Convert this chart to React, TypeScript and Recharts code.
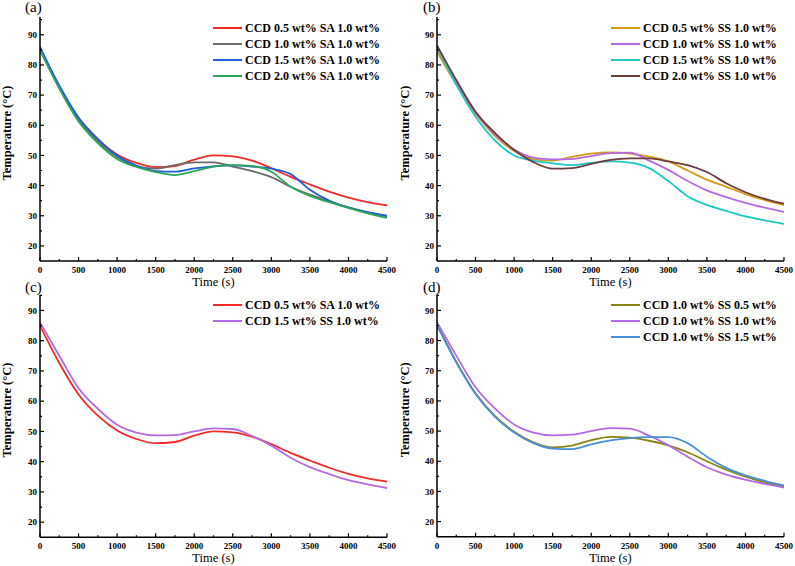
import { LineChart, Line, XAxis, YAxis, Legend } from 'recharts'

const FONT = '"Liberation Serif", "Times New Roman", serif'

// time axis (s)
const TIME = [0, 250, 500, 750, 1000, 1250, 1500, 1750, 2000, 2250, 2500, 2750, 3000, 3250, 3500, 3750, 4000, 4250, 4500]
const X_TICKS = TIME
const Y_TICKS = [20, 25, 30, 35, 40, 45, 50, 55, 60, 65, 70, 75, 80, 85, 90, 95]

// (a) CCD + SA
const SA_05 = [85, 72.6, 62.2, 55.2, 50.3, 47.5, 46.1, 46.5, 48.6, 50, 49.7, 48.3, 45.8, 42.9, 40.4, 38, 36, 34.5, 33.4]
const SA_10 = [85.5, 72.6, 61.8, 54.6, 49.5, 46.5, 45.6, 46.8, 47.7, 47.7, 46.3, 44.8, 42.8, 39.6, 37, 34.8, 32.8, 31.1, 29.8]
const SA_15 = [86, 73.2, 62.6, 55.5, 50, 46.6, 44.8, 44.6, 45.7, 46.4, 46.7, 46.3, 45.6, 43.8, 38.6, 35, 32.7, 31.2, 30]
const SA_20 = [85, 72.2, 61.3, 54.1, 48.8, 46.2, 44.5, 43.5, 44.8, 46.3, 46.8, 46.5, 44.6, 39.6, 36.6, 34.5, 32.6, 30.8, 29.3]

// (b) CCD + SS 1.0 wt%
const SS_05 = [84.5, 73.5, 63.8, 56.5, 51.5, 48.8, 48.3, 49.5, 50.6, 51, 50.6, 49.6, 48, 45, 42, 39.6, 37.2, 35.2, 33.5]
const SS_10 = [85.5, 74.2, 64.2, 57, 52, 49.3, 48.7, 48.8, 49.8, 50.8, 50.9, 48.3, 45.2, 41.5, 38.4, 36.2, 34.3, 32.7, 31.3]
const SS_15 = [86, 73.5, 62.8, 55, 50, 48.3, 47.4, 46.8, 47.5, 48, 47.6, 45.8, 41.5, 36.5, 33.6, 31.6, 29.8, 28.5, 27.3]
const SS_20 = [86.5, 75, 64.5, 57.5, 51.8, 47.8, 45.6, 45.8, 47.2, 48.5, 49, 49, 48, 46.8, 44.5, 40.8, 37.8, 35.6, 34]

// (c) comparison
const C_SS15 = [86, 75, 64.3, 57.5, 52.2, 49.6, 48.7, 48.8, 50, 51, 50.8, 48.5, 45.3, 41.3, 38.2, 35.9, 33.9, 32.5, 31.3]

// (d) CCD 1.0 wt% + SS
const D_SS05 = [85.5, 73, 62.5, 55, 49.8, 46.3, 44.6, 45.2, 47, 48.1, 47.8, 46.8, 45.3, 43, 40, 37.2, 34.9, 33, 31.6]
const D_SS10 = [86, 75, 64.5, 57.5, 52.2, 49.5, 48.6, 48.8, 50, 51, 50.8, 48.5, 45.3, 41.5, 38, 35.6, 33.9, 32.5, 31.3]
const D_SS15 = [85, 72.8, 62.3, 54.8, 49.5, 46, 44.2, 44, 45.6, 46.9, 47.7, 48, 48, 46, 41.5, 37.8, 35.3, 33.5, 32]

interface Series { name: string; color: string; values: number[] }

const XTick = ({ x, y, payload }: any) => {
  const v = payload.value
  const major = v % 500 === 0
  return (
    <g>
      <line x1={x} x2={x} y1={y} y2={y - (major ? 4 : 2)} stroke="#000" strokeWidth={1.2} />
      {major && (
        <text x={x} y={y + 12} textAnchor="middle" fontSize={9} fontWeight="bold" fontFamily={FONT} fill="#000">{v}</text>
      )}
    </g>
  )
}

const YTick = ({ x, y, payload }: any) => {
  const v = payload.value
  const major = v % 10 === 0
  return (
    <g>
      <line x1={x} x2={x + (major ? 4 : 2)} y1={y} y2={y} stroke="#000" strokeWidth={1.2} />
      {major && (
        <text x={x - 3} y={y + 3.2} textAnchor="end" fontSize={9} fontWeight="bold" fontFamily={FONT} fill="#000">{v}</text>
      )}
    </g>
  )
}

const LegendBox = ({ payload }: any) => (
  <div style={{ fontFamily: FONT, fontWeight: 'bold', fontSize: 12, lineHeight: '16px', color: '#000' }}>
    {(payload || []).map((p: any) => (
      <div key={p.value} style={{ display: 'flex', alignItems: 'center', height: 16, whiteSpace: 'nowrap' }}>
        <span style={{ display: 'inline-block', width: 29, height: 2, background: p.color, marginRight: 3 }} />
        <span>{p.value}</span>
      </div>
    ))}
  </div>
)

interface PanelProps {
  tag: string
  series: Series[]
  left: number
  top: number
  width: number
  height: number
  marginTop: number
  marginRight: number
  yWidth: number
  xHeight: number
  yMax: number
  legendTop: number
}

function Panel({ tag, series, left, top, width, height, marginTop, marginRight, yWidth, xHeight, yMax, legendTop }: PanelProps) {
  const rows = TIME.map((t, i) => {
    const r: Record<string, number> = { t }
    series.forEach((s, k) => { r['s' + k] = s.values[i] })
    return r
  })
  const axisLine = { stroke: '#000', strokeWidth: 1.5 }
  return (
    <div style={{ position: 'absolute', left, top, width, height }}>
      <div style={{ position: 'absolute', left: 25, top: 0, fontFamily: FONT, fontSize: 15, lineHeight: '15px', color: '#000', zIndex: 2 }}>{tag}</div>
      <LineChart width={width} height={height} data={rows} margin={{ top: marginTop, right: marginRight, bottom: 0, left: 0 }}>
        <XAxis
          dataKey="t" type="number" domain={[0, 4500]} ticks={X_TICKS} interval={0} allowDataOverflow
          height={xHeight} tickSize={0} tickMargin={0} tickLine={false} axisLine={axisLine} tick={XTick}
          label={(p: any) => {
            const vb = p.viewBox
            return (
              <text x={vb.x + vb.width / 2} y={vb.y + 25} textAnchor="middle" fontSize={12.5} fontFamily={FONT} fill="#000">Time (s)</text>
            )
          }}
        />
        <XAxis xAxisId="top" orientation="top" dataKey="t" type="number" domain={[0, 4500]} height={0} tick={false} tickLine={false} axisLine={axisLine} />
        <YAxis
          type="number" domain={[15, yMax]} ticks={Y_TICKS} interval={0} allowDataOverflow
          width={yWidth} tickSize={0} tickMargin={0} tickLine={false} axisLine={axisLine} tick={YTick}
          label={(p: any) => {
            const vb = p.viewBox
            const cx = vb.x + 11
            const cy = vb.y + vb.height / 2 - 6
            return (
              <text x={cx} y={cy} transform={`rotate(-90, ${cx}, ${cy})`} textAnchor="middle" fontSize={12.5} fontWeight="bold" fontFamily={FONT} fill="#000">Temperature (°C)</text>
            )
          }}
        />
        <YAxis yAxisId="right" orientation="right" type="number" domain={[15, yMax]} width={0} tick={false} tickLine={false} axisLine={axisLine} />
        <Legend
          layout="vertical" align="center" verticalAlign="middle"
          wrapperStyle={{ left: 213, top: legendTop, width: 'auto', height: 'auto' }}
          content={<LegendBox />}
        />
        {series.map((s, k) => (
          <Line key={s.name} dataKey={'s' + k} name={s.name} type="monotone" stroke={s.color} strokeWidth={1.8} dot={false} isAnimationActive={false} />
        ))}
      </LineChart>
    </div>
  )
}

const PANEL_A: Series[] = [
  { name: 'CCD 0.5 wt% SA 1.0 wt%', color: '#f42a2a', values: SA_05 },
  { name: 'CCD 1.0 wt% SA 1.0 wt%', color: '#6b6b6b', values: SA_10 },
  { name: 'CCD 1.5 wt% SA 1.0 wt%', color: '#1f5ed8', values: SA_15 },
  { name: 'CCD 2.0 wt% SA 1.0 wt%', color: '#2ba65c', values: SA_20 },
]
const PANEL_B: Series[] = [
  { name: 'CCD 0.5 wt% SS 1.0 wt%', color: '#d49c14', values: SS_05 },
  { name: 'CCD 1.0 wt% SS 1.0 wt%', color: '#b46ae4', values: SS_10 },
  { name: 'CCD 1.5 wt% SS 1.0 wt%', color: '#1dc9c3', values: SS_15 },
  { name: 'CCD 2.0 wt% SS 1.0 wt%', color: '#6e3b3e', values: SS_20 },
]
const PANEL_C: Series[] = [
  { name: 'CCD 0.5 wt% SA 1.0 wt%', color: '#f42a2a', values: SA_05 },
  { name: 'CCD 1.5 wt% SS 1.0 wt%', color: '#b46ae4', values: C_SS15 },
]
const PANEL_D: Series[] = [
  { name: 'CCD 1.0 wt% SS 0.5 wt%', color: '#8a8412', values: D_SS05 },
  { name: 'CCD 1.0 wt% SS 1.0 wt%', color: '#b46ae4', values: D_SS10 },
  { name: 'CCD 1.0 wt% SS 1.5 wt%', color: '#4a8fd6', values: D_SS15 },
]

export default function App() {
  return (
    <div style={{ position: 'absolute', left: 0, top: 0, width: 795, height: 566, background: '#fff' }}>
      <Panel tag="(a)" series={PANEL_A} left={0} top={0} width={400} height={289} marginTop={17} marginRight={13} yWidth={40} xHeight={28} yMax={95.9} legendTop={20} />
      <Panel tag="(b)" series={PANEL_B} left={398} top={0} width={397} height={289} marginTop={17} marginRight={11} yWidth={39} xHeight={28} yMax={95.9} legendTop={20} />
      <Panel tag="(c)" series={PANEL_C} left={0} top={280} width={400} height={286} marginTop={14.7} marginRight={13} yWidth={40} xHeight={28.7} yMax={95.2} legendTop={17} />
      <Panel tag="(d)" series={PANEL_D} left={398} top={280} width={397} height={286} marginTop={14.7} marginRight={11} yWidth={39} xHeight={29.3} yMax={95.2} legendTop={17} />
    </div>
  )
}
